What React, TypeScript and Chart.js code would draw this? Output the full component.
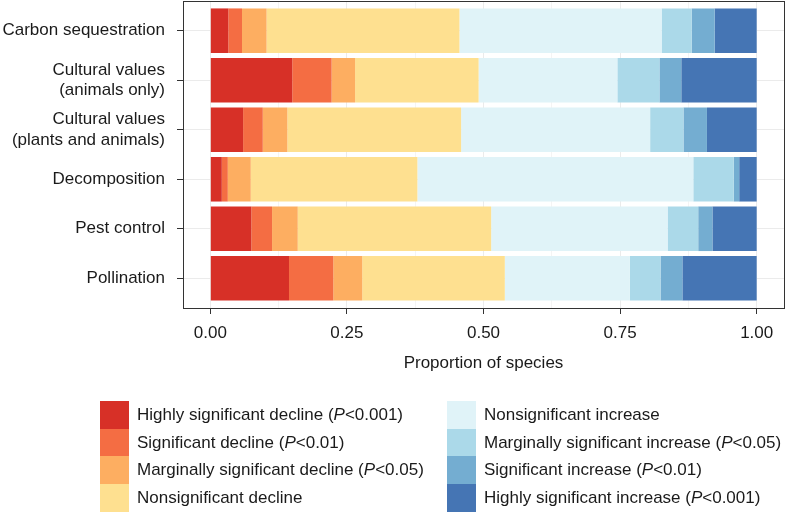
import React, { useEffect, useRef } from "react";
import { Chart, registerables } from "chart.js";

Chart.register(...registerables);

// ---- Data ----
const categories = [
  ["Carbon sequestration"],
  ["Cultural values", "(animals only)"],
  ["Cultural values", "(plants and animals)"],
  ["Decomposition"],
  ["Pest control"],
  ["Pollination"],
];

const seriesLabels = [
  "Highly significant decline (P<0.001)",
  "Significant decline (P<0.01)",
  "Marginally significant decline (P<0.05)",
  "Nonsignificant decline",
  "Nonsignificant increase",
  "Marginally significant increase (P<0.05)",
  "Significant increase (P<0.01)",
  "Highly significant increase (P<0.001)",
];

const seriesColors = [
  "#D73027",
  "#F46D43",
  "#FDAE61",
  "#FEE090",
  "#E0F3F8",
  "#ABD9E9",
  "#74ADD1",
  "#4575B4",
];

const highlyDecline = [0.033, 0.15, 0.06, 0.021, 0.075, 0.144];
const sigDecline = [0.025, 0.072, 0.036, 0.011, 0.038, 0.081];
const margDecline = [0.045, 0.043, 0.045, 0.042, 0.047, 0.053];
const nonsigDecline = [0.353, 0.226, 0.318, 0.305, 0.354, 0.261];
const nonsigIncrease = [0.37, 0.254, 0.346, 0.505, 0.323, 0.229];
const margIncrease = [0.055, 0.077, 0.061, 0.074, 0.056, 0.056];
const sigIncrease = [0.042, 0.04, 0.043, 0.01, 0.026, 0.04];
const highlyIncrease = [0.077, 0.138, 0.091, 0.032, 0.081, 0.136];

const seriesValues = [
  highlyDecline,
  sigDecline,
  margDecline,
  nonsigDecline,
  nonsigIncrease,
  margIncrease,
  sigIncrease,
  highlyIncrease,
];

const xTickValues = [0, 0.125, 0.25, 0.375, 0.5, 0.625, 0.75, 0.875, 1];
const xTitle = "Proportion of species";

const FONT = "'Liberation Sans', Arial, Helvetica, sans-serif";
const TEXT = "#1a1a1a";

const isMajor = (v: number) => Math.abs(v * 4 - Math.round(v * 4)) < 1e-9;

const borderPlugin = {
  id: "panelBorder",
  afterDraw(chart: any) {
    const { ctx, chartArea } = chart;
    ctx.save();
    ctx.strokeStyle = "#333333";
    ctx.lineWidth = 1;
    ctx.strokeRect(
      chartArea.left + 0.5,
      chartArea.top + 0.5,
      chartArea.right - chartArea.left,
      chartArea.bottom - chartArea.top
    );
    ctx.restore();
  },
};

function renderLabel(label: string) {
  const idx = label.indexOf("(P<");
  if (idx < 0) return label;
  return (
    <>
      {label.slice(0, idx + 1)}
      <i>P</i>
      {label.slice(idx + 2)}
    </>
  );
}

export default function App() {
  const ref = useRef<HTMLCanvasElement | null>(null);

  useEffect(() => {
    if (!ref.current) return;
    const chart = new Chart(ref.current, {
      type: "bar",
      data: {
        datasets: seriesValues.map((vals, s) => ({
          label: seriesLabels[s],
          data: vals.map((v, i) => ({ x: v, y: i + 1 })),
          backgroundColor: seriesColors[s],
          borderWidth: 0,
          categoryPercentage: 1,
          barPercentage: 0.9,
        })),
      },
      options: {
        indexAxis: "y",
        animation: false,
        responsive: false,
        layout: { padding: { left: 0, right: 4, top: 1, bottom: 138 } },
        plugins: {
          legend: { display: false },
          tooltip: { enabled: false },
        },
        scales: {
          x: {
            type: "linear",
            stacked: true,
            min: -0.05,
            max: 1.05,
            offset: false,
            afterBuildTicks: (scale: any) => {
              scale.ticks = xTickValues.map((v) => ({ value: v }));
            },
            afterFit: (scale: any) => {
              scale.height = 66;
              scale.paddingLeft = 0;
              scale.paddingRight = 0;
            },
            border: { display: false },
            grid: {
              offset: false,
              color: (ctx: any) =>
                ctx.tick && isMajor(ctx.tick.value) ? "#EBEBEB" : "#F4F4F4",
              tickColor: (ctx: any) =>
                ctx.tick && isMajor(ctx.tick.value) ? "#333333" : "rgba(0,0,0,0)",
              tickLength: 6,
              lineWidth: 1,
            },
            ticks: {
              autoSkip: false,
              maxRotation: 0,
              padding: 9,
              color: TEXT,
              font: { family: FONT, size: 17 },
              callback: (v: any) => (isMajor(Number(v)) ? Number(v).toFixed(2) : ""),
            },
            title: {
              display: true,
              text: xTitle,
              color: TEXT,
              font: { family: FONT, size: 17 },
              padding: 0,
            },
          },
          y: {
            type: "linear",
            stacked: true,
            reverse: true,
            min: 0.4,
            max: 6.6,
            offset: false,
            afterBuildTicks: (scale: any) => {
              scale.ticks = categories.map((_, i) => ({ value: i + 1 }));
            },
            afterFit: (scale: any) => {
              scale.width = 183;
              scale.paddingTop = 0;
              scale.paddingBottom = 0;
            },
            border: { display: false },
            grid: {
              offset: false,
              color: "#EBEBEB",
              tickColor: "#333333",
              tickLength: 6,
              lineWidth: 1,
            },
            ticks: {
              autoSkip: false,
              padding: 12,
              color: TEXT,
              font: { family: FONT, size: 17, lineHeight: 1.2 },
              callback: (v: any) => categories[Math.round(Number(v)) - 1] || "",
            },
          },
        },
      } as any,
      plugins: [borderPlugin],
    });
    return () => chart.destroy();
  }, []);

  return (
    <div
      style={{
        position: "fixed",
        left: 0,
        top: 0,
        width: 788,
        height: 512,
        background: "#fff",
        fontFamily: FONT,
      }}
    >
      <canvas ref={ref} width={788} height={512} style={{ width: 788, height: 512, display: "block" }} />
      {seriesLabels.map((label, i) => {
        const col = Math.floor(i / 4);
        const row = i % 4;
        const left = col === 0 ? 100 : 447;
        const top = 401 + row * 27.7;
        return (
          <div
            key={label}
            style={{ position: "absolute", left, top, height: 27.7, display: "flex", alignItems: "center" }}
          >
            <div style={{ width: 29, height: 27.7, background: seriesColors[i] }} />
            <div
              style={{
                marginLeft: 8,
                fontSize: 17,
                color: TEXT,
                whiteSpace: "nowrap",
                lineHeight: "20px",
              }}
            >
              {renderLabel(label)}
            </div>
          </div>
        );
      })}
    </div>
  );
}
